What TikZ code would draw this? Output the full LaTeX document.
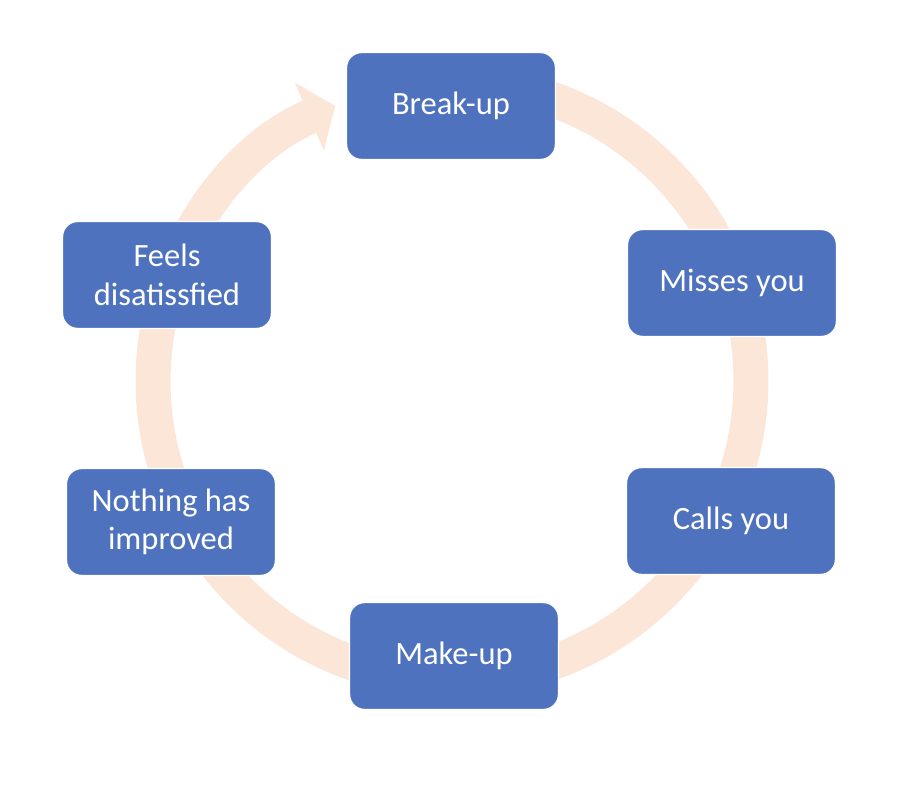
\documentclass[tikz,border=0pt]{standalone}
\usepackage{fontspec}
\setmainfont{Carlito}
\usetikzlibrary{arrows.meta}
\definecolor{boxblue}{RGB}{79,114,190}
\definecolor{ringpeach}{RGB}{251,230,216}

\begin{document}
\begin{tikzpicture}[x=0.02cm,y=0.02cm,
    box/.style={fill=boxblue, draw=white, line width=0.8pt, rounded corners=0.3cm,
        minimum width=4.18cm, minimum height=2.14cm, text=white, align=center,
        font=\fontsize{18.5}{22}\selectfont}]
        \useasboundingbox (-452,-408) rectangle (448,381);
        % the cycle ring
        \draw[ringpeach, line width=0.7cm, -{Triangle[width=1.45cm,length=0.56cm]}]
            (85:5.98cm) arc[start angle=85, end angle=-247, radius=5.98cm];
        \node[box] (A) at (-1,275) {Break-up};
        \node[box] (B) at (280,98) {Misses you};
        \node[box] (C) at (279,-140) {Calls you};
        \node[box] (D) at (2,-275) {Make-up};
        \node[box] (E) at (-281,-141) {Nothing has\\improved};
        \node[box] (F) at (-285,106) {Feels\\disatissfied};
    \end{tikzpicture}
\end{document}
